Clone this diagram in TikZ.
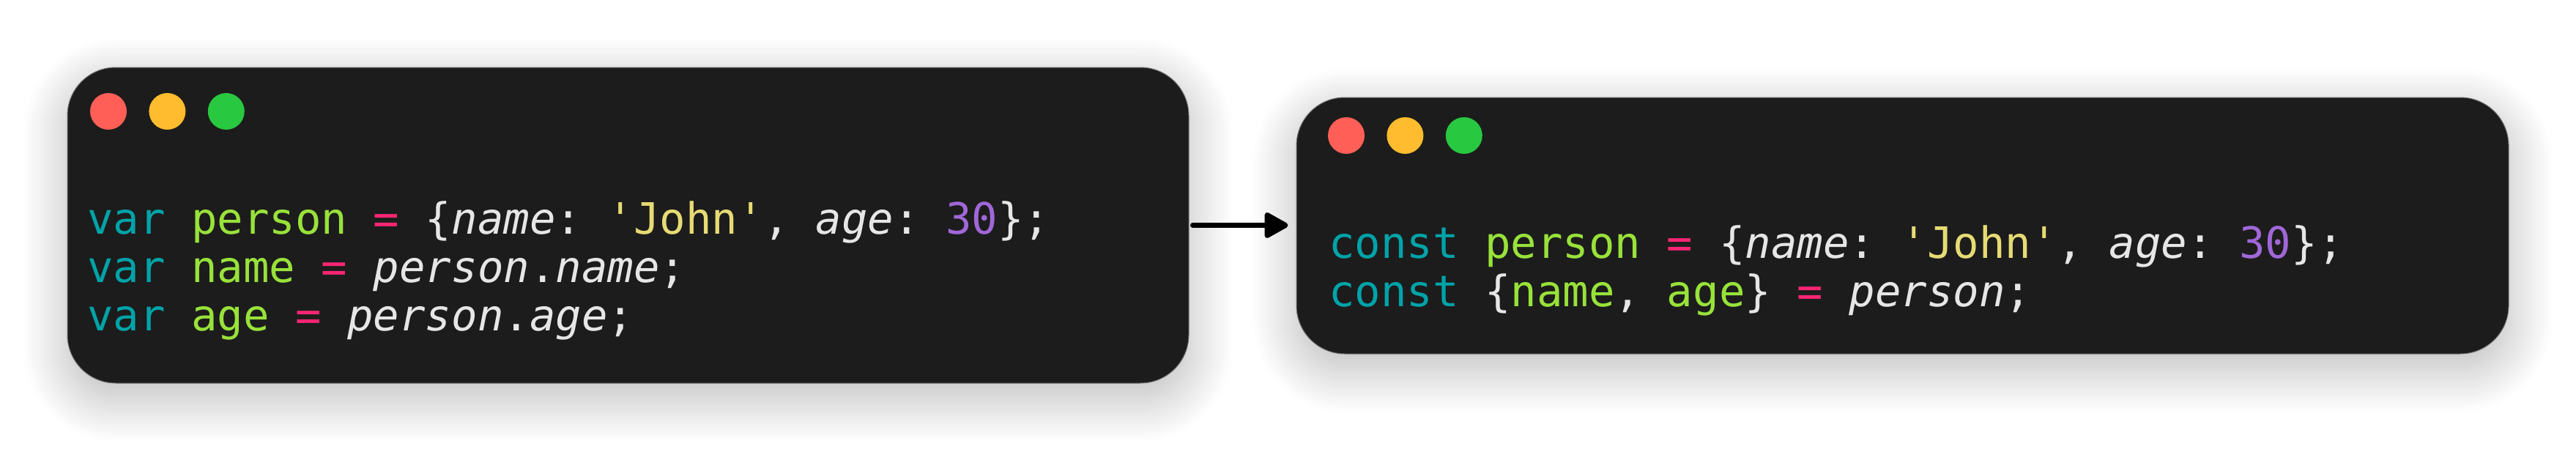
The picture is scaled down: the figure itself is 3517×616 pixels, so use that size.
\documentclass[tikz,border=0pt]{standalone}
\usepackage{fontspec}
\setmonofont{DejaVu Sans Mono}
\usepackage{tikz}
\usetikzlibrary{positioning,arrows.meta,shadows.blur}
\definecolor{winbg}{HTML}{1C1C1C}
\definecolor{codefg}{HTML}{E6E6E6}
\definecolor{kwteal}{HTML}{00A3A8}
\definecolor{idgreen}{HTML}{98E23A}
\definecolor{oppink}{HTML}{F92672}
\definecolor{stryellow}{HTML}{E6DB74}
\definecolor{numpurple}{HTML}{A067D8}
\definecolor{dotred}{HTML}{FF5F57}
\definecolor{dotyellow}{HTML}{FEBC2E}
\definecolor{dotgreen}{HTML}{28C840}
\newcommand{\jskw}[1]{\textcolor{kwteal}{#1}}
\newcommand{\jsid}[1]{\textcolor{idgreen}{#1}}
\newcommand{\jsop}[1]{\textcolor{oppink}{#1}}
\newcommand{\jsstr}[1]{\textcolor{stryellow}{#1}}
\newcommand{\jsnum}[1]{\textcolor{numpurple}{#1}}
\newcommand{\jsprop}[1]{\textit{#1}}

\begin{document}
\begin{tikzpicture}[x=1pt,y=-1pt,
    window/.style={draw=black!55,line width=1pt,fill=winbg,rounded corners=66pt,
      blur shadow={shadow xshift=0pt,shadow yshift=-20pt,shadow blur radius=60pt,
        shadow blur steps=30,shadow opacity=28}},
    dot/.style={circle,inner sep=0,minimum size=50pt},
    code/.style={anchor=base west,inner sep=0,text=codefg,font=\ttfamily\fontsize{59}{66}\selectfont},
    flow/.style={line width=7pt,line cap=round,-{Triangle[length=36pt,width=38pt,round]}},
    node distance=30pt]
    \useasboundingbox (0,0) rectangle (3517,616);

    % before
    \node[window,minimum width=1531pt,minimum height=431pt] (winA) at (857.5,307.5) {};
    \node[dot,fill=dotred] (redA) at (148,152) {};
    \node[dot,fill=dotyellow,right=of redA] (yelA) {};
    \node[dot,fill=dotgreen,right=of yelA] (grnA) {};
    \node[code] (lineA1) at (119,319) {\jskw{var} \jsid{person} \jsop{=} \{\jsprop{name}: \jsstr{'John'}, \jsprop{age}: \jsnum{30}\};};
    \node[code] (lineA2) at (119,385) {\jskw{var} \jsid{name} \jsop{=} \jsprop{person}.\jsprop{name};};
    \node[code] (lineA3) at (119,451) {\jskw{var} \jsid{age} \jsop{=} \jsprop{person}.\jsprop{age};};

    % after
    \node[window,minimum width=1655pt,minimum height=350pt] (winB) at (2597.5,308) {};
    \node[dot,fill=dotred] (redB) at (1838,185) {};
    \node[dot,fill=dotyellow,right=of redB] (yelB) {};
    \node[dot,fill=dotgreen,right=of yelB] (grnB) {};
    \node[code] (lineB1) at (1814,352) {\jskw{const} \jsid{person} \jsop{=} \{\jsprop{name}: \jsstr{'John'}, \jsprop{age}: \jsnum{30}\};};
    \node[code] (lineB2) at (1814,418) {\jskw{const} \{\jsid{name}, \jsid{age}\} \jsop{=} \jsprop{person};};

    \draw[flow,shorten <=5pt,shorten >=11pt] (winA.east) -- (winA.east -| winB.west);
\end{tikzpicture}
\end{document}
